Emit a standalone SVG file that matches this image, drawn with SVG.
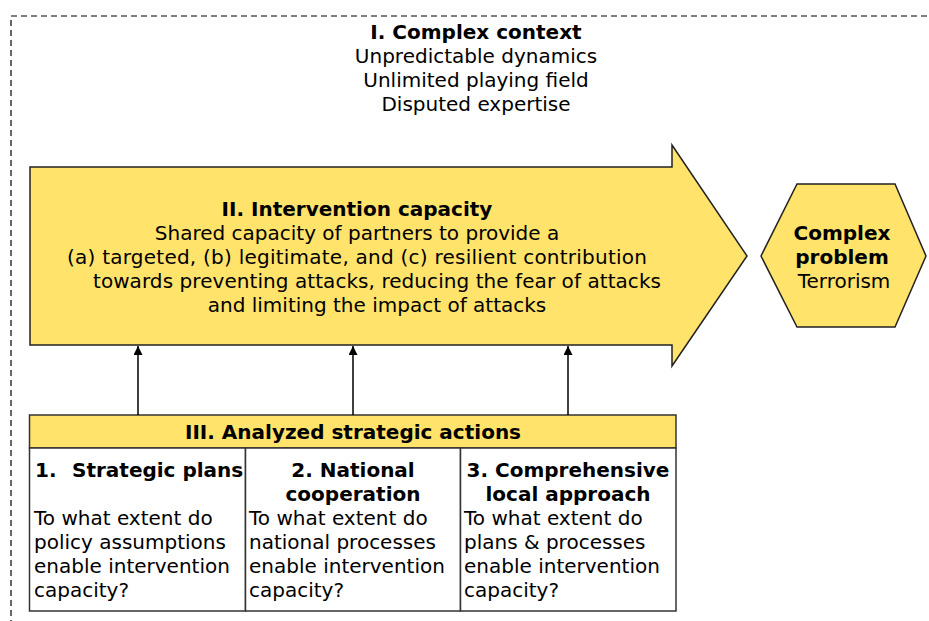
<svg xmlns="http://www.w3.org/2000/svg" width="929" height="621" viewBox="0 0 929 621">
<defs>
<style>
text{font-family:"DejaVu Sans","Verdana",sans-serif;font-size:20px;fill:#000}
.b{font-weight:bold}
.m{text-anchor:middle}
.y{fill:#FFE36A;stroke:#222;stroke-width:1.5}
.c{fill:#fff;stroke:#333;stroke-width:1.5}
.conn{stroke:#000;stroke-width:1.5;fill:none;marker-end:url(#ah)}
</style>
<marker id="ah" viewBox="0 0 10 10" refX="10" refY="5" markerWidth="6" markerHeight="6" markerUnits="strokeWidth" orient="auto">
<path d="M0,0 L10,5 L0,10 z" fill="#000"/>
</marker>
</defs>
<g id="context">
<rect x="11" y="16" width="1000" height="700" fill="none" stroke="#000" stroke-width="1.2" stroke-dasharray="6,4"/>
<text class="b m" x="476" y="39">I. Complex context</text>
<text class="m" x="476" y="63">Unpredictable dynamics</text>
<text class="m" x="476" y="87">Unlimited playing field</text>
<text class="m" x="476" y="111">Disputed expertise</text>
</g>
<g id="intervention">
<path class="y" d="M30,167 L672,167 L672,145 L747,256 L672,366 L672,345 L30,345 Z"/>
<text class="b m" x="357" y="216">II. Intervention capacity</text>
<text class="m" x="357" y="240">Shared capacity of partners to provide a</text>
<text class="m" x="357" y="264" textLength="580" lengthAdjust="spacing">(a) targeted, (b) legitimate, and (c) resilient contribution</text>
<text class="m" x="377" y="288" textLength="568" lengthAdjust="spacing">towards preventing attacks, reducing the fear of attacks</text>
<text class="m" x="377" y="312">and limiting the impact of attacks</text>
</g>
<g id="problem">
<path class="y" d="M761,256 L797,184 L895,184 L926,256 L895,327 L797,327 Z"/>
<text class="b m" x="842" y="240">Complex</text>
<text class="b m" x="842" y="264">problem</text>
<text class="m" x="844" y="288">Terrorism</text>
</g>
<g id="actions">
<rect class="y" x="29.5" y="415" width="646.5" height="33" style="stroke:#333"/>
<text class="b m" x="353" y="439">III. Analyzed strategic actions</text>
<rect class="c" x="29.5" y="448" width="216" height="163"/>
<rect class="c" x="245.5" y="448" width="215" height="163"/>
<rect class="c" x="460.5" y="448" width="215.5" height="163"/>
</g>
<g id="plans">
<text class="b" x="35" y="477">1.<tspan x="72">Strategic plans</tspan></text>
<text x="34" y="525">To what extent do</text>
<text x="34" y="549">policy assumptions</text>
<text x="34" y="573">enable intervention</text>
<text x="34" y="597">capacity?</text>
</g>
<g id="national">
<text class="b m" x="353" y="477">2. National</text>
<text class="b m" x="353" y="501">cooperation</text>
<text x="249" y="525">To what extent do</text>
<text x="249" y="549">national processes</text>
<text x="249" y="573">enable intervention</text>
<text x="249" y="597">capacity?</text>
</g>
<g id="local">
<text class="b m" x="568" y="477">3. Comprehensive</text>
<text class="b m" x="568" y="501">local approach</text>
<text x="464" y="525">To what extent do</text>
<text x="464" y="549">plans &amp; processes</text>
<text x="464" y="573">enable intervention</text>
<text x="464" y="597">capacity?</text>
</g>
<g id="connectors">
<line class="conn" x1="138" y1="415" x2="138" y2="346"/>
<line class="conn" x1="353" y1="415" x2="353" y2="346"/>
<line class="conn" x1="568" y1="415" x2="568" y2="346"/>
</g>
</svg>
